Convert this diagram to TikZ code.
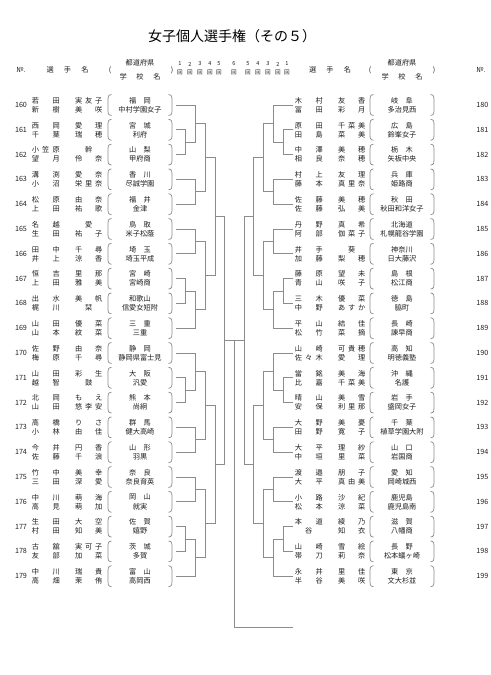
\documentclass[tikz,border=0pt]{standalone}
\usepackage{fontspec}
\setmainfont{Noto Sans CJK JP}
\newcommand{\spread}[2]{\makebox[#1][s]{\spaceskip=0pt plus 1fil\relax #2}}
\newcommand{\pn}[2]{\spread{21pt}{#1}\hspace{11.6pt}\spread{20.25pt}{#2}}

\begin{document}
\begin{tikzpicture}[x=0.75pt,y=0.75pt,yscale=-1,xscale=1,
  txt/.style={inner sep=0pt,color={rgb, 255:red, 30; green, 30; blue, 30 },font=\fontsize{5.4}{6}\selectfont},
  tiny/.style={txt,font=\fontsize{4.2}{4.5}\selectfont},
  bline/.style={color={rgb, 255:red, 140; green, 140; blue, 140 },line width=0.55pt}]
\useasboundingbox (0,0) rectangle (490,675);

% Text Node
\node[inner sep=0pt,font=\fontsize{10.5}{12}\selectfont] (title) at (232,36) {女子個人選手権（その５）};

% Text Node
\node[txt] (hnoL) at (21,70) {№.};
\node[txt] (hnmL) at (67.5,70) {\spread{31.5pt}{選 手 名}};
\node[txt] (hpoL) at (110,70) {(};
\node[txt] (hprL) at (140,63) {都道府県};
\node[txt] (hscL) at (140,77) {\spread{30.75pt}{学 校 名}};
\node[txt] (hpcL) at (172,70) {)};
% Text Node
\node[txt] (hnmR) at (330,70) {\spread{31.5pt}{選 手 名}};
\node[txt] (hpoR) at (370,70) {(};
\node[txt] (hprR) at (402,63) {都道府県};
\node[txt] (hscR) at (402,77) {\spread{30.75pt}{学 校 名}};
\node[txt] (hpcR) at (434,70) {)};
\node[txt] (hnoR) at (481,70) {№.};
% Text Node
\foreach \r/\x [count=\k] in {1/180,2/190,3/200,4/210,5/219,6/234,5/248,4/258,3/268,2/278,1/287}
{
  \node[tiny] (rn\k) at (\x,64) {\r};
  \node[tiny] (rk\k) at (\x,72) {回};
}

%Shape: entries left
\foreach \no/\sa/\ga/\sb/\gb/\pf/\sc in {160/若 田/実 友 子/新 樹/美 咲/福　岡/中村学園女子,
  161/西 岡/愛 理/千 葉/瑞 穂/宮　城/利府,
  162/小 笠 原/~幹~/望 月/伶 奈/山　梨/甲府商,
  163/溝 渕/愛 奈/小 沼/栄 里 奈/香　川/尽誠学園,
  164/松 原/由 奈/上 田/祐 歌/福　井/金津,
  165/名 越/~愛~/生 田/祐 子/鳥　取/米子松蔭,
  166/田 中/千 尋/井 上/涼 香/埼　玉/埼玉平成,
  167/恒 吉/里 那/上 田/雅 美/宮　崎/宮崎商,
  168/出 水/美 帆/梶 川/~栞~/和歌山/信愛女短附,
  169/山 田/優 菜/山 本/紋 菜/三　重/三重,
  170/佐 野/由 奈/梅 原/千 尋/静　岡/静岡県富士見,
  171/山 田/彩 生/越 智/~鼓~/大　阪/汎愛,
  172/北 岡/も え/山 田/悠 李 安/熊　本/尚絅,
  173/高 橋/り さ/小 林/由 佳/群　馬/健大高崎,
  174/今 井/円 香/佐 藤/千 浪/山　形/羽黒,
  175/竹 中/美 幸/三 田/深 愛/奈　良/奈良育英,
  176/中 川/萌 海/高 見/萌 加/岡　山/就実,
  177/生 田/大 空/村 田/知 美/佐　賀/嬉野,
  178/古 舘/実 可 子/友 部/加 菜/茨　城/多賀,
  179/中 川/瑞 貴/高 畑/茉 侑/富　山/高岡西}
{
  \pgfmathsetmacro{\yy}{105+24.8*(\no-160)}
  \node[txt] (no\no) at (21,\yy) {\no};
  \node[txt,anchor=west] (na\no) at (31.5,\yy-4.5) {\pn{\sa}{\ga}};
  \node[txt,anchor=west] (nb\no) at (31.5,\yy+4.5) {\pn{\sb}{\gb}};
  \node[txt] (pf\no) at (140,\yy-4.5) {\pf};
  \node[txt] (sc\no) at (140,\yy+4.5) {\sc};
  \draw[bline] (111.5,\yy-10.5) .. controls (108,\yy-10) and (108,\yy-8) .. (108,\yy-6) -- (108,\yy+6) .. controls (108,\yy+8) and (108,\yy+10) .. (111.5,\yy+10.5);
  \draw[bline] (168.5,\yy-10.5) .. controls (172,\yy-10) and (172,\yy-8) .. (172,\yy-6) -- (172,\yy+6) .. controls (172,\yy+8) and (172,\yy+10) .. (168.5,\yy+10.5);
  \coordinate (p\no) at (176,\yy);
}

%Shape: entries right
\foreach \no/\sa/\ga/\sb/\gb/\pf/\sc in {180/木 村/友 香/冨 田/彩 月/岐　阜/多治見西,
  181/原 田/千 菜 美/田 島/菜 美/広　島/鈴峯女子,
  182/中 澤/美 穂/相 良/奈 穂/栃　木/矢板中央,
  183/村 上/友 理/藤 本/真 里 奈/兵　庫/姫路商,
  184/佐 藤/美 穂/佐 藤/弘 美/秋　田/秋田和洋女子,
  185/丹 野/真 希/阿 部/伽 菜 子/北海道/札幌龍谷学園,
  186/井 手/~葵~/加 藤/梨 穂/神奈川/日大藤沢,
  187/藤 原/望 未/青 山/咲 子/島　根/松江商,
  188/三 木/優 菜/中 野/あ す か/徳　島/脇町,
  189/平 山/結 佳/松 竹/菜 摘/長　崎/諫早商,
  190/山 崎/可 貴 穂/佐 々 木/愛 理/高　知/明徳義塾,
  191/當 銘/美 海/比 嘉/千 菜 美/沖　縄/名護,
  192/晴 山/美 雪/安 保/利 里 那/岩　手/盛岡女子,
  193/大 野/美 憂/田 野/寛 子/千　葉/植草学園大附,
  194/大 平/理 紗/中 垣/里 菜/山　口/岩国商,
  195/渡 邉/朋 子/大 平/真 由 美/愛　知/岡崎城西,
  196/小 路/沙 紀/松 本/涼 菜/鹿児島/鹿児島南,
  197/本 道/綾 乃/~谷~/知 衣/滋　賀/八幡商,
  198/山 崎/雪 絵/帯 刀/莉 奈/長　野/松本蟻ヶ崎,
  199/永 井/里 佳/半 谷/美 咲/東　京/文大杉並}
{
  \pgfmathsetmacro{\yy}{105+24.8*(\no-180)}
  \node[txt,anchor=west] (no\no) at (476,\yy) {\no};
  \node[txt,anchor=west] (na\no) at (294.5,\yy-4.5) {\pn{\sa}{\ga}};
  \node[txt,anchor=west] (nb\no) at (294.5,\yy+4.5) {\pn{\sb}{\gb}};
  \node[txt] (pf\no) at (402,\yy-4.5) {\pf};
  \node[txt] (sc\no) at (402,\yy+4.5) {\sc};
  \draw[bline] (373.5,\yy-10.5) .. controls (370,\yy-10) and (370,\yy-8) .. (370,\yy-6) -- (370,\yy+6) .. controls (370,\yy+8) and (370,\yy+10) .. (373.5,\yy+10.5);
  \draw[bline] (430.5,\yy-10.5) .. controls (434,\yy-10) and (434,\yy-8) .. (434,\yy-6) -- (434,\yy+6) .. controls (434,\yy+8) and (434,\yy+10) .. (430.5,\yy+10.5);
  \coordinate (p\no) at (293,\yy);
}

%Straight Lines: left bracket
\coordinate (w161) at (185,142.2);
\coordinate (w160) at (195,123.6);
\coordinate (w163) at (195,191.8);
\coordinate (g160) at (205,157.7);
\coordinate (w165) at (195,241.4);
\coordinate (w167) at (185,291);
\coordinate (w169) at (195,309.6);
\coordinate (g165) at (205,275.5);
\coordinate (h160) at (215,216.6);
\coordinate (w171) at (185,390.2);
\coordinate (w170) at (195,371.6);
\coordinate (w173) at (195,439.8);
\coordinate (g170) at (205,405.7);
\coordinate (w175) at (195,489.4);
\coordinate (w177) at (185,539);
\coordinate (w179) at (195,557.6);
\coordinate (g175) at (205,523.5);
\coordinate (h170) at (215,464.6);
\coordinate (fL) at (224,340.6);
\draw[bline] (p161) -| (w161) (p162) -| (w161);
\draw[bline] (p160) -| (w160) (w161) -| (w160);
\draw[bline] (p163) -| (w163) (p164) -| (w163);
\draw[bline] (w160) -| (g160) (w163) -| (g160);
\draw[bline] (p165) -| (w165) (p166) -| (w165);
\draw[bline] (p167) -| (w167) (p168) -| (w167);
\draw[bline] (w167) -| (w169) (p169) -| (w169);
\draw[bline] (w165) -| (g165) (w169) -| (g165);
\draw[bline] (g160) -| (h160) (g165) -| (h160);
\draw[bline] (p171) -| (w171) (p172) -| (w171);
\draw[bline] (p170) -| (w170) (w171) -| (w170);
\draw[bline] (p173) -| (w173) (p174) -| (w173);
\draw[bline] (w170) -| (g170) (w173) -| (g170);
\draw[bline] (p175) -| (w175) (p176) -| (w175);
\draw[bline] (p177) -| (w177) (p178) -| (w177);
\draw[bline] (w177) -| (w179) (p179) -| (w179);
\draw[bline] (w175) -| (g175) (w179) -| (g175);
\draw[bline] (g170) -| (h170) (g175) -| (h170);
\draw[bline] (h160) -| (fL) (h170) -| (fL);

%Straight Lines: right bracket
\coordinate (w181) at (283,142.2);
\coordinate (w180) at (273,123.6);
\coordinate (w183) at (273,191.8);
\coordinate (g180) at (263,157.7);
\coordinate (w185) at (273,241.4);
\coordinate (w187) at (283,291);
\coordinate (w189) at (273,309.6);
\coordinate (g185) at (263,275.5);
\coordinate (h180) at (253,216.6);
\coordinate (w191) at (283,390.2);
\coordinate (w190) at (273,371.6);
\coordinate (w193) at (273,439.8);
\coordinate (g190) at (263,405.7);
\coordinate (w195) at (273,489.4);
\coordinate (w197) at (283,539);
\coordinate (w199) at (273,557.6);
\coordinate (g195) at (263,523.5);
\coordinate (h190) at (253,464.6);
\coordinate (fR) at (244,340.6);
\draw[bline] (p181) -| (w181) (p182) -| (w181);
\draw[bline] (p180) -| (w180) (w181) -| (w180);
\draw[bline] (p183) -| (w183) (p184) -| (w183);
\draw[bline] (w180) -| (g180) (w183) -| (g180);
\draw[bline] (p185) -| (w185) (p186) -| (w185);
\draw[bline] (p187) -| (w187) (p188) -| (w187);
\draw[bline] (w187) -| (w189) (p189) -| (w189);
\draw[bline] (w185) -| (g185) (w189) -| (g185);
\draw[bline] (g180) -| (h180) (g185) -| (h180);
\draw[bline] (p191) -| (w191) (p192) -| (w191);
\draw[bline] (p190) -| (w190) (w191) -| (w190);
\draw[bline] (p193) -| (w193) (p194) -| (w193);
\draw[bline] (w190) -| (g190) (w193) -| (g190);
\draw[bline] (p195) -| (w195) (p196) -| (w195);
\draw[bline] (p197) -| (w197) (p198) -| (w197);
\draw[bline] (w197) -| (w199) (p199) -| (w199);
\draw[bline] (w195) -| (g195) (w199) -| (g195);
\draw[bline] (g190) -| (h190) (g195) -| (h190);
\draw[bline] (h180) -| (fR) (h190) -| (fR);

%Straight Lines: final
\coordinate (fC) at (234,340.6);
\coordinate (champ) at (293,627);
\draw[bline] (fL) -- (fR);
\draw[bline] (fC) |- (champ);

\end{tikzpicture}
\end{document}
